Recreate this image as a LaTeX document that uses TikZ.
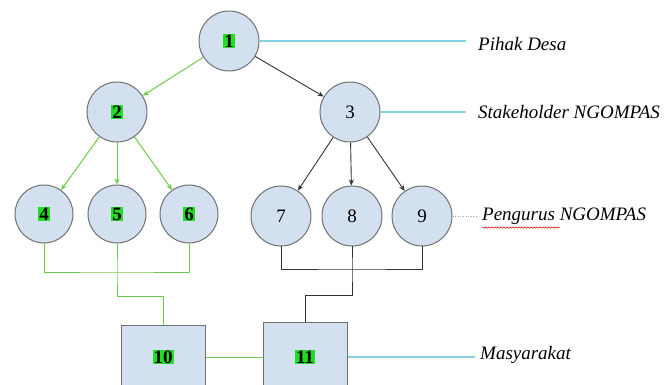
\documentclass[tikz,border=0pt]{standalone}
\usepackage{fontspec}
\setmainfont{Liberation Serif}
\usetikzlibrary{arrows.meta,decorations.pathmorphing}
\definecolor{cfill}{HTML}{D3E0F0}
\definecolor{cborder}{HTML}{707070}
\definecolor{gline}{HTML}{6CCB4A}
\definecolor{hl}{HTML}{22DD22}
\definecolor{cyanl}{HTML}{86D2E0}
\definecolor{dline}{HTML}{333333}
\newcommand{\hlnum}[1]{{\setlength{\fboxsep}{1pt}\colorbox{hl}{\textbf{#1}}}}
\begin{document}
\begin{tikzpicture}[x=1pt,y=-1pt,
  circ/.style={circle,draw=cborder,fill=cfill,line width=1pt,minimum size=60pt,inner sep=0pt,font=\fontsize{19}{19}\selectfont},
  circs/.style={circ,minimum size=58pt},
  boxn/.style={rectangle,draw=cborder,fill=cfill,line width=1pt,minimum width=84pt,inner sep=0pt,font=\fontsize{19}{19}\selectfont},
  garrow/.style={draw=gline,line width=1pt,-{Stealth[length=6pt,width=5pt]}},
  darrow/.style={draw=dline,line width=0.9pt,-{Stealth[length=6pt,width=5pt]}},
  gconn/.style={draw=gline,line width=1pt},
  dconn/.style={draw=dline,line width=0.9pt},
  cconn/.style={draw=cyanl,line width=1.1pt},
  lbl/.style={anchor=west,inner sep=0pt,font=\fontsize{19}{19}\selectfont\itshape}
]
\useasboundingbox (0,0) rectangle (665,385);
\clip (0,0) rectangle (665,385);

% nodes
\node[circ] (n1) at (229,41) {\hlnum{1}};
\node[circ] (n2) at (117,112) {\hlnum{2}};
\node[circ] (n3) at (350,112) {3};
\node[circs] (n4) at (44,214) {\hlnum{4}};
\node[circs] (n5) at (117,214) {\hlnum{5}};
\node[circs] (n6) at (189,214) {\hlnum{6}};
\node[circ] (n7) at (281,216) {7};
\node[circ] (n8) at (352,216) {8};
\node[circ] (n9) at (422,216) {9};
\node[boxn,minimum height=64pt] (n10) at (163,357) {\hlnum{10}};
\node[boxn,minimum height=68pt] (n11) at (305,357) {\hlnum{11}};

% labels
\node[lbl] (l1) at (478,44) {Pihak Desa};
\node[lbl] (l2) at (478,112) {Stakeholder NGOMPAS};
\node[lbl] (l3) at (482,216) {Pengurus NGOMPAS};
\node[lbl] (l4) at (480,355) {Masyarakat};
\draw[red!80!black,line width=0.5pt,decorate,decoration={snake,amplitude=0.7pt,segment length=3pt}]
  ([yshift=-3pt]l3.south west) -- ++(78,0);

% arrows
\draw[garrow] (n1) -- (n2);
\draw[garrow] (n2) -- (n4);
\draw[garrow] (n2) -- (n5);
\draw[garrow] (n2) -- (n6);
\draw[darrow] (n1) -- (n3);
\draw[darrow] (n3) -- (n7);
\draw[darrow] (n3) -- (n8);
\draw[darrow] (n3) -- (n9);

% bottom connectors (green)
\coordinate (gj) at (117,273);
\coordinate (gk) at (117,297);
\draw[gconn] (n4.south) |- (gj) -| (n6.south);
\draw[gconn] (n5.south) -- (gj) -- (gk) -| (n10.north);
% bottom connectors (dark)
\coordinate (dj) at (352,269);
\coordinate (dk) at (352,295);
\draw[dconn] (n7.south) |- (dj) -| (n9.south);
\draw[dconn] (n8.south) -- (dj) -- (dk) -| (n11.north);
\draw[gconn] (n10.east) -- (n11.west);

% cyan label lines
\coordinate (c1) at (466,41);
\coordinate (c2) at (466,112);
\coordinate (c3) at (476,216);
\coordinate (c4) at (475,357);
\draw[cconn] (n1.east) -- (c1);
\draw[cconn] (n3.east) -- (c2);
\draw[draw=gray!70,line width=0.6pt,dotted] (n9.east) -- (c3);
\draw[cconn] (n11.east) -- (c4);
\end{tikzpicture}
\end{document}
